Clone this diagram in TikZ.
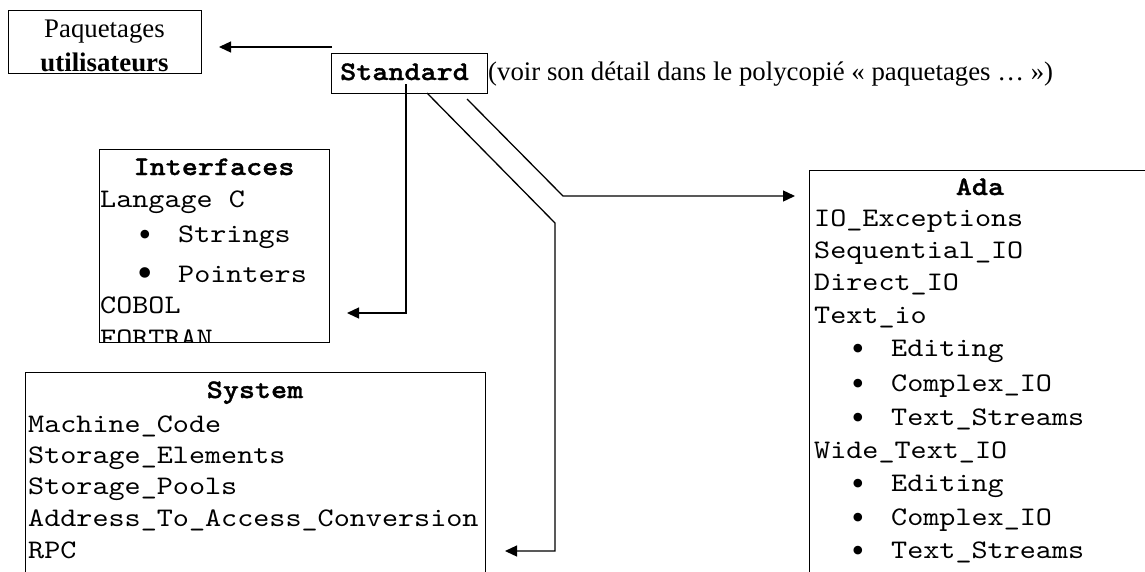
\documentclass[tikz,border=0pt]{standalone}
\usepackage{fontspec}
\setmainfont{Liberation Serif}
% typewriter face widened to the 0.6em advance of a Courier-style font
\setmonofont[Extension=.otf, UprightFont=*-regular, BoldFont=lmmonolt10-bold,
  BoldFeatures={FakeBold=1.2}, FakeStretch=1.143]{lmmono10}
\usetikzlibrary{arrows.meta}

\tikzset{
  frame/.style={draw, line width=1.3pt, inner sep=0pt, anchor=north west},
  arrowwire/.style={line width=1.3pt, -{Triangle[length=12pt,width=11pt]}},
  code/.style={font=\fontsize{26.8}{30}\selectfont\ttfamily, inner sep=0pt, anchor=base west},
  codetitle/.style={font=\fontsize{26.8}{30}\selectfont\ttfamily\bfseries, inner sep=0pt, anchor=base},
  prose/.style={font=\fontsize{26.8}{30}\selectfont, inner sep=0pt, anchor=base},
  % list markers sit a little lower than the text baseline they belong to
  dot/.style={font=\fontsize{36}{30}\selectfont, inner sep=0pt, anchor=base, yshift=-4pt},
  bigdot/.style={font=\fontsize{44}{30}\selectfont, inner sep=0pt, anchor=base, yshift=-5pt},
}

\begin{document}
\begin{tikzpicture}[x=1pt, y=-1pt]
\useasboundingbox (0,0) rectangle (1145,571);
\clip (0,0) rectangle (1145,571);

% --- user packages -------------------------------------------------------
\node[frame, minimum width=193pt, minimum height=63pt] (user) at (8,10) {};
\node[prose] (userA) at (104.5,37) {Paquetages};
\node[prose, font=\fontsize{26.8}{30}\selectfont\bfseries] (userB) at (104.5,71) {utilisateurs};

% --- Standard ------------------------------------------------------------
\node[frame, minimum width=156pt, minimum height=40pt] (std) at (331,53) {};
\node[code, font=\fontsize{26.8}{30}\selectfont\ttfamily\bfseries] (stdT) at (340,80) {Standard};
\node[prose, anchor=base west] (note) at (488,80)
  {(voir son détail dans le polycopié « paquetages … »)};

% --- Interfaces ----------------------------------------------------------
\node[frame, minimum width=230pt, minimum height=193pt] (intf) at (99,149) {};
\begin{scope}
  \clip (99,149) rectangle (329,342);
  \node[codetitle] (intfT) at (214,175) {Interfaces};
  \node[code] (i1) at (100,207) {Langage C};
  \node[dot] (b1) at (145,242) {•};
  \node[code] (i2) at (178,242) {Strings};
  \node[bigdot] (b2) at (145,282) {•};
  \node[code] (i3) at (178,282) {Pointers};
  \node[code] (i4) at (100,313) {COBOL};
  \node[code] (i5) at (100,346) {FORTRAN};
\end{scope}

% --- System --------------------------------------------------------------
\node[frame, minimum width=460pt, minimum height=220pt] (sys) at (25,372) {};
\node[codetitle] (sysT) at (255,398) {System};
\node[code] (s1) at (28,432) {Machine\_Code};
\node[code] (s2) at (28,463) {Storage\_Elements};
\node[code] (s3) at (28,494) {Storage\_Pools};
\node[code] (s4) at (28,526) {Address\_To\_Access\_Conversion};
\node[code] (s5) at (28,558) {RPC};

% --- Ada -----------------------------------------------------------------
\node[frame, minimum width=342pt, minimum height=420pt] (ada) at (809,170) {};
\node[codetitle] (adaT) at (980,195) {Ada};
\node[code] (a1) at (814,226) {IO\_Exceptions};
\node[code] (a2) at (814,258) {Sequential\_IO};
\node[code] (a3) at (814,290) {Direct\_IO};
\node[code] (a4) at (814,323) {Text\_io};
\node[dot]  (d1) at (858,356) {•};
\node[code] (a5) at (891,356) {Editing};
\node[dot]  (d2) at (858,391) {•};
\node[code] (a6) at (891,391) {Complex\_IO};
\node[dot]  (d3) at (858,425) {•};
\node[code] (a7) at (891,425) {Text\_Streams};
\node[code] (a8) at (814,458) {Wide\_Text\_IO};
\node[dot]  (d4) at (858,491) {•};
\node[code] (a9) at (891,491) {Editing};
\node[dot]  (d5) at (858,525) {•};
\node[code] (a10) at (891,525) {Complex\_IO};
\node[dot]  (d6) at (858,558) {•};
\node[code] (a11) at (891,558) {Text\_Streams};

% --- connectors ----------------------------------------------------------
\coordinate (toUser) at (219,47);
\coordinate (fromStd) at (332,47);
\draw[arrowwire] (fromStd) -- (toUser);

\coordinate (stdDown) at (406,84);
\coordinate (toIntf) at (347,313);
\draw[arrowwire] (stdDown) |- (toIntf);

\coordinate (stdDiagA) at (427,93);
\coordinate (bendA) at (555,223);
\coordinate (toSys) at (505,551);
\draw[arrowwire] (stdDiagA) -- (bendA) |- (toSys);

\coordinate (stdDiagB) at (467,99);
\coordinate (bendB) at (563,196);
\coordinate (toAda) at (795,196);
\draw[arrowwire] (stdDiagB) -- (bendB) -- (toAda);
\end{tikzpicture}
\end{document}
